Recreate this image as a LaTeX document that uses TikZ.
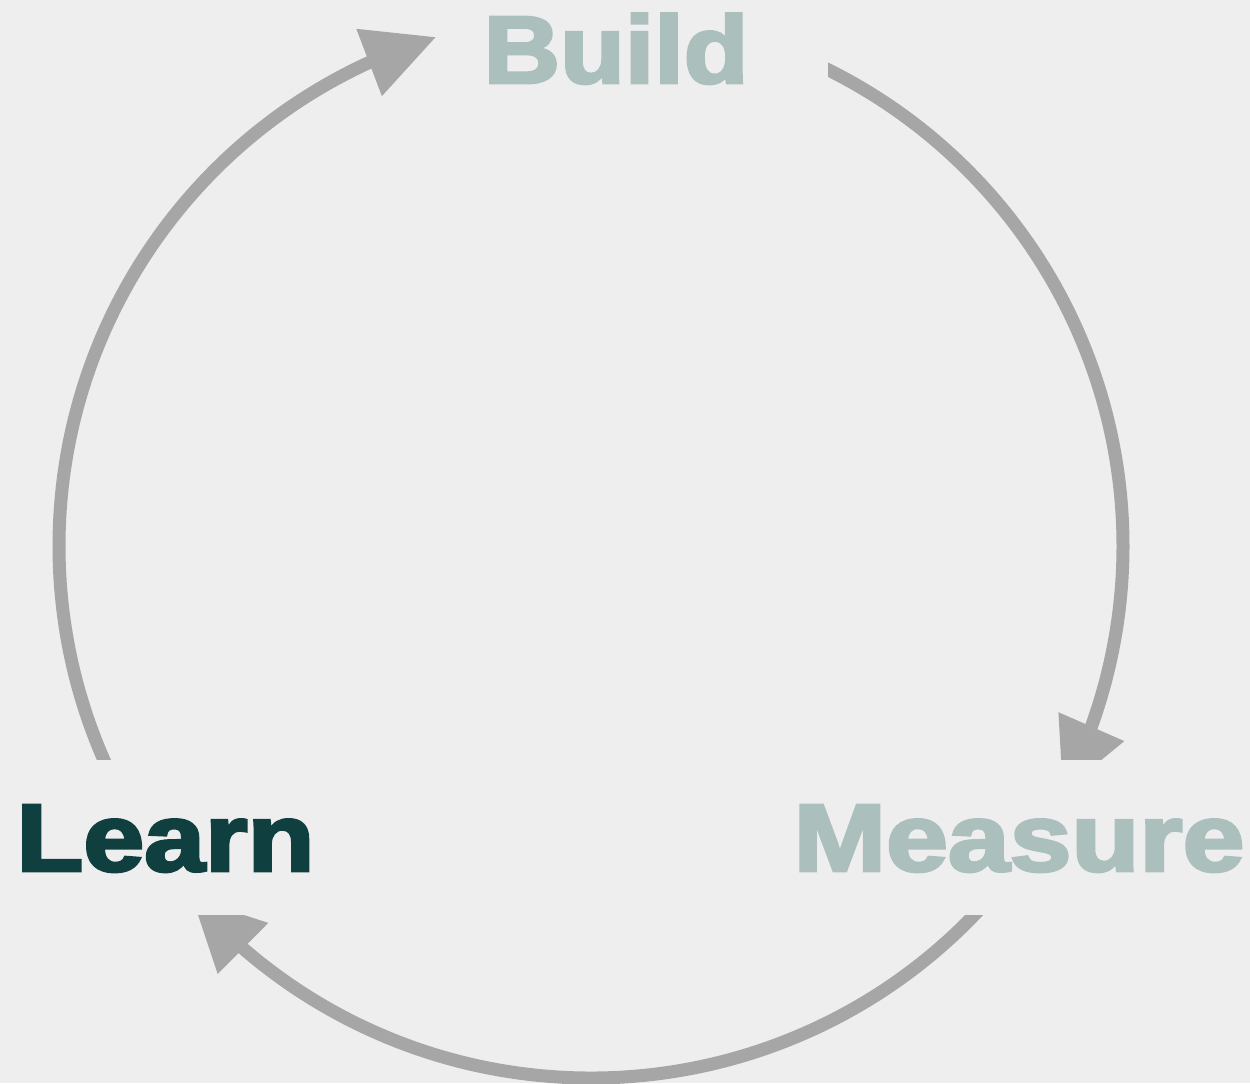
\documentclass[tikz,border=0pt]{standalone}
\usepackage{fontspec}
\usepackage{graphicx}
\setmainfont{Liberation Sans}
\newfontfamily\labelfont{Liberation Sans Bold}[FakeBold=3]
\usetikzlibrary{arrows.meta,bending}
\definecolor{bg}{HTML}{EEEEEE}
\definecolor{arcgray}{HTML}{A6A6A6}
\definecolor{pale}{HTML}{ABBFBD}
\definecolor{deep}{HTML}{0F3F3F}
\begin{document}
\begin{tikzpicture}[x=0.02cm,y=-0.02cm,
  cyclearc/.style={draw=arcgray, line width=0.26cm,
    -{Triangle[length=1.42cm,width=1.44cm,line width=0pt]}},
  word/.style={anchor=base, inner sep=0pt,
    font={\labelfont\fontsize{54.5pt}{60pt}\selectfont}},
  mask/.style={fill=bg}]
% canvas
\fill[bg] (0,0) rectangle (1250,1083);
\useasboundingbox (0,0) rectangle (1250,1083);
\coordinate (hub) at (591,546);
% the cycle: three arcs of one circle
\draw[cyclearc] (hub) ++(-70:532) arc[start angle=-70, end angle=27.5, radius=532];
\draw[cyclearc] (hub) ++(40:532) arc[start angle=40, end angle=138.5, radius=532];
\draw[cyclearc] (hub) ++(150:532) arc[start angle=150, end angle=253, radius=532];
% label areas cut the arcs
\fill[mask] (450,-10) rectangle (828,100);
\fill[mask] (-10,760) rectangle (330,915);
\fill[mask] (777,760) rectangle (1260,915);
% labels
\node[word, text=pale] (build) at (616,83) {\resizebox{5.3cm}{\height}{Build}};
\node[word, text=deep] (learn) at (165.5,871) {\resizebox{5.96cm}{\height}{Learn}};
\node[word, text=pale] (measure) at (1019,871) {\resizebox{9.02cm}{\height}{Measure}};
\end{tikzpicture}
\end{document}
